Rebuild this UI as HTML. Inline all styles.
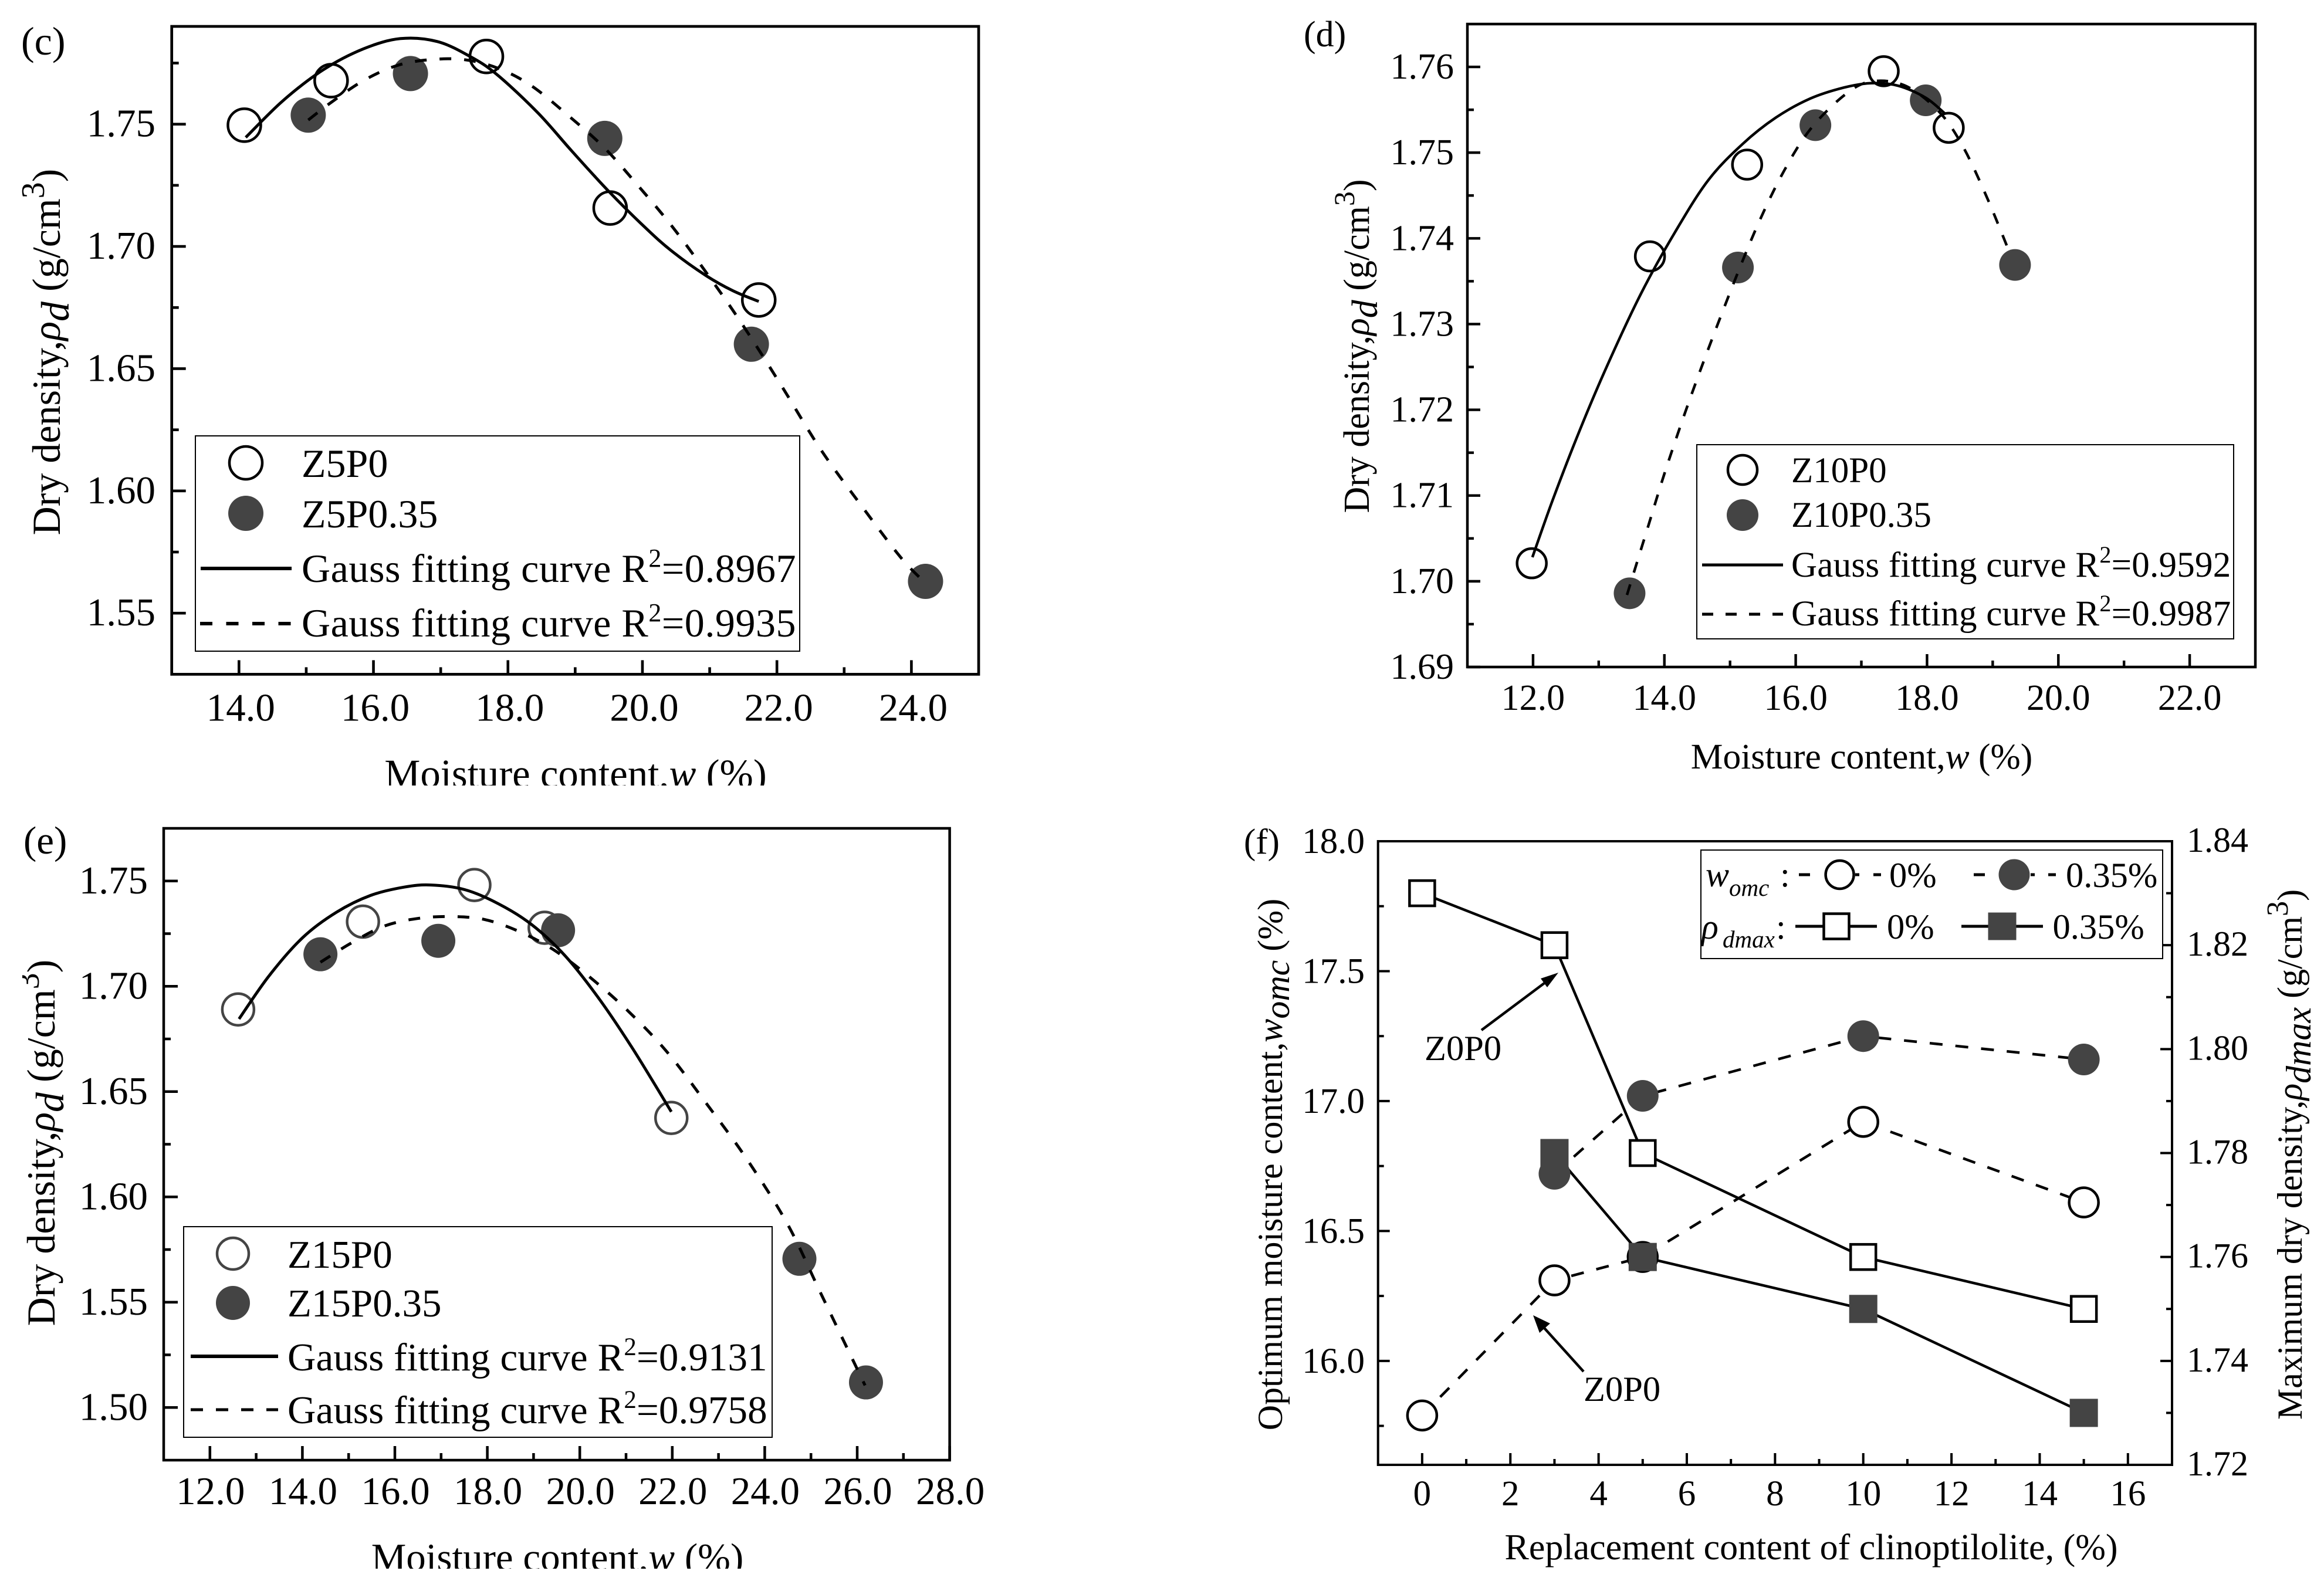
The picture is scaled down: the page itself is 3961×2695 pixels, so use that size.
<!DOCTYPE html>
<html lang="en">
<head>
<meta charset="utf-8">
<title>Compaction curves</title>
<style>
html,body{margin:0;padding:0;background:#fff;}
svg{display:block;}
text{fill:#000;}
</style>
</head>
<body>
<svg id="figure" xmlns="http://www.w3.org/2000/svg" width="3961" height="2695" viewBox="0 0 3961 2695" font-family="'Liberation Serif', serif">
<rect x="0" y="0" width="3961" height="2695" fill="#fff"/>

<!-- Panel c -->
<g id="panel-c"></g>
<text x="36" y="93" font-size="68">(c)</text>
<text transform="translate(102,600) rotate(-90)" text-anchor="middle" font-size="68">Dry density,<tspan font-style="italic">ρ</tspan><tspan font-style="italic" dy="15">d</tspan><tspan dy="-15"> (g/cm</tspan><tspan font-size="56" dy="-27">3</tspan><tspan dy="27">)</tspan></text>
<text x="981" y="1342" text-anchor="middle" font-size="68.8">Moisture content,<tspan font-style="italic">w</tspan> (%)</text>
<rect x="600" y="1339" width="800" height="50" fill="#fff"/>
<g>
<rect x="333" y="743" width="1030" height="367" fill="none" stroke="#000" stroke-width="2"/>
<circle cx="419" cy="789" r="28" fill="#fff" stroke="#000" stroke-width="4.5"/>
<circle cx="419" cy="875" r="30" fill="#444"/>
<line x1="342" y1="969" x2="497" y2="969" stroke="#000" stroke-width="6"/>
<line x1="341" y1="1063" x2="497" y2="1063" stroke="#000" stroke-width="6" stroke-dasharray="21 23.5"/>
<text x="514" y="813" font-size="68">Z5P0</text>
<text x="514" y="899" font-size="68">Z5P0.35</text>
<text x="514" y="992" font-size="68" letter-spacing="0.55">Gauss fitting curve R<tspan font-size="44" dy="-26">2</tspan><tspan dy="26">=0.8967</tspan></text>
<text x="514" y="1085" font-size="68" letter-spacing="0.55">Gauss fitting curve R<tspan font-size="44" dy="-26">2</tspan><tspan dy="26">=0.9935</tspan></text>
</g>

<!-- Panel d -->
<g id="panel-d"></g>
<text x="2222" y="79" font-size="62">(d)</text>
<text transform="translate(2333,590) rotate(-90)" text-anchor="middle" font-size="62">Dry density,<tspan font-style="italic">ρ</tspan><tspan font-style="italic" dy="14">d</tspan><tspan dy="-14"> (g/cm</tspan><tspan font-size="50" dy="-25">3</tspan><tspan dy="25">)</tspan></text>
<text x="3173" y="1310" text-anchor="middle" font-size="61.5">Moisture content,<tspan font-style="italic">w</tspan> (%)</text>
<g>
<rect x="2892" y="758" width="915" height="331" fill="none" stroke="#000" stroke-width="2"/>
<circle cx="2970" cy="801" r="25" fill="#fff" stroke="#000" stroke-width="4.5"/>
<circle cx="2970" cy="878" r="27" fill="#444"/>
<line x1="2901" y1="963" x2="3039" y2="963" stroke="#000" stroke-width="5"/>
<line x1="2901" y1="1047" x2="3039" y2="1047" stroke="#000" stroke-width="5" stroke-dasharray="19 21"/>
<text x="3053" y="822" font-size="61">Z10P0</text>
<text x="3053" y="898" font-size="61">Z10P0.35</text>
<text x="3053" y="983" font-size="61" letter-spacing="0.25">Gauss fitting curve R<tspan font-size="40" dy="-24">2</tspan><tspan dy="24">=0.9592</tspan></text>
<text x="3053" y="1066" font-size="61" letter-spacing="0.25">Gauss fitting curve R<tspan font-size="40" dy="-24">2</tspan><tspan dy="24">=0.9987</tspan></text>
</g>

<!-- Panel e -->
<g id="panel-e"></g>
<text x="40" y="1455" font-size="67">(e)</text>
<text transform="translate(93,1948) rotate(-90)" text-anchor="middle" font-size="68">Dry density,<tspan font-style="italic">ρ</tspan><tspan font-style="italic" dy="15">d</tspan><tspan dy="-15"> (g/cm</tspan><tspan font-size="56" dy="-27">3</tspan><tspan dy="27">)</tspan></text>
<rect x="0" y="1640" width="38" height="70" fill="#fff"/>
<text x="950" y="2677" text-anchor="middle" font-size="67">Moisture content,<tspan font-style="italic">w</tspan> (%)</text>
<rect x="600" y="2674" width="800" height="21" fill="#fff"/>
<g>
<rect x="313" y="2091" width="1003" height="359" fill="none" stroke="#000" stroke-width="2"/>
<circle cx="397" cy="2137" r="27" fill="#fff" stroke="#444" stroke-width="4.5"/>
<circle cx="397" cy="2221" r="29" fill="#444"/>
<line x1="325" y1="2312" x2="474" y2="2312" stroke="#000" stroke-width="6"/>
<line x1="325" y1="2403" x2="474" y2="2403" stroke="#000" stroke-width="5" stroke-dasharray="21 22"/>
<text x="490" y="2161" font-size="67">Z15P0</text>
<text x="490" y="2244" font-size="67">Z15P0.35</text>
<text x="490" y="2336" font-size="67" letter-spacing="0.1">Gauss fitting curve R<tspan font-size="43" dy="-26">2</tspan><tspan dy="26">=0.9131</tspan></text>
<text x="490" y="2426" font-size="67" letter-spacing="0.1">Gauss fitting curve R<tspan font-size="43" dy="-26">2</tspan><tspan dy="26">=0.9758</tspan></text>
</g>

<!-- Panel f -->
<g id="panel-f"></g>
<text x="2120" y="1455" font-size="61">(f)</text>
<text transform="translate(2185,1985) rotate(-90)" text-anchor="middle" font-size="60">Optimum moisture content,<tspan font-style="italic">w</tspan><tspan font-style="italic" dy="12">omc</tspan><tspan dy="-12"> (%)</tspan></text>
<text transform="translate(3923,1968) rotate(-90)" text-anchor="middle" font-size="60">Maximum dry density,<tspan font-style="italic">ρ</tspan><tspan font-style="italic" dy="15">dmax</tspan><tspan dy="-15"> (g/cm</tspan><tspan font-size="52" dy="-24">3</tspan><tspan dy="24">)</tspan></text>
<text x="3087" y="2658" text-anchor="middle" font-size="62">Replacement content of clinoptilolite, (%)</text>
<g>
<line x1="2525" y1="1756" x2="2640" y2="1670" stroke="#000" stroke-width="4.5"/>
<polygon points="2656,1658 2626,1668 2637,1683" fill="#000"/>
<text x="2428" y="1807" font-size="60.5">Z0P0</text>
</g>
<g>
<line x1="2699" y1="2338" x2="2625" y2="2256" stroke="#000" stroke-width="4.5"/>
<polygon points="2613,2242 2642,2256 2624,2272" fill="#000"/>
<text x="2699" y="2388" font-size="60.5">Z0P0</text>
</g>
<g>
<rect x="2899" y="1449" width="787" height="185" fill="#fff" stroke="#000" stroke-width="2"/>
<text x="2907" y="1511" font-size="60" font-style="italic">w</text>
<text x="2947" y="1527" font-size="41" font-style="italic">omc</text>
<text x="3034" y="1511" font-size="60">:</text>
<line x1="3066" y1="1491" x2="3085" y2="1491" stroke="#000" stroke-width="5"/>
<line x1="3162" y1="1491" x2="3169" y2="1491" stroke="#000" stroke-width="5"/>
<line x1="3193" y1="1491" x2="3206" y2="1491" stroke="#000" stroke-width="5"/>
<circle cx="3135.6" cy="1491" r="24" fill="#fff" stroke="#000" stroke-width="4.5"/>
<text x="3220" y="1512" font-size="60.5">0%</text>
<line x1="3364" y1="1491" x2="3383" y2="1491" stroke="#000" stroke-width="5"/>
<line x1="3461" y1="1491" x2="3468" y2="1491" stroke="#000" stroke-width="5"/>
<line x1="3491" y1="1491" x2="3504" y2="1491" stroke="#000" stroke-width="5"/>
<circle cx="3433" cy="1491" r="26.5" fill="#444"/>
<text x="3521" y="1512" font-size="60.5">0.35%</text>
<text x="2900" y="1600" font-size="60" font-style="italic">ρ</text>
<text x="2936" y="1615" font-size="41" font-style="italic">dmax</text>
<text x="3027" y="1600" font-size="60">:</text>
<line x1="3060" y1="1579" x2="3199" y2="1579" stroke="#000" stroke-width="5"/>
<rect x="3108.5" y="1557.5" width="43" height="43" fill="#fff" stroke="#000" stroke-width="4.5"/>
<text x="3216" y="1600" font-size="60.5">0%</text>
<line x1="3343" y1="1579" x2="3482" y2="1579" stroke="#000" stroke-width="5"/>
<rect x="3388.5" y="1555.5" width="48" height="47" fill="#444"/>
<text x="3498.5" y="1600" font-size="60.5">0.35%</text>
</g>
</svg>

<script>
// ---------- Panel c data ----------
const cXTicks = [14, 16, 18, 20, 22, 24];
const cXMinor = [15, 17, 19, 21, 23];
const cXLabels = ['14.0', '16.0', '18.0', '20.0', '22.0', '24.0'];
const cYTicks = [1.55, 1.60, 1.65, 1.70, 1.75];
const cYMinor = [1.575, 1.625, 1.675, 1.725, 1.775];
const cYLabels = ['1.55', '1.60', '1.65', '1.70', '1.75'];
const cOpenX = [14.08, 15.37, 17.68, 19.52, 21.73];
const cOpenY = [1.7496, 1.7678, 1.7777, 1.7157, 1.6781];
const cFillX = [15.03, 16.55, 19.44, 21.62, 24.21];
const cFillY = [1.7537, 1.7707, 1.7442, 1.6600, 1.5630];
const cSolidX = [14.10, 14.65, 15.25, 15.85, 16.40, 16.95, 17.45, 17.85, 18.45, 18.95, 19.50, 20.05, 20.45, 20.95, 21.35, 21.73];
const cSolidY = [1.7446, 1.7595, 1.7722, 1.7808, 1.7850, 1.7838, 1.7775, 1.7700, 1.7545, 1.7390, 1.7225, 1.7075, 1.6978, 1.6880, 1.6818, 1.6775];
const cDashX = [15.03, 15.35, 15.85, 16.35, 16.85, 17.35, 17.85, 18.35, 18.95, 19.45, 19.95, 20.45, 20.95, 21.45, 22.05, 22.65, 23.25, 23.85, 24.23];
const cDashY = [1.7517, 1.7585, 1.7678, 1.7740, 1.7764, 1.7764, 1.7729, 1.7657, 1.7523, 1.7399, 1.7244, 1.7079, 1.6893, 1.6696, 1.6438, 1.6170, 1.5942, 1.5725, 1.5618];

// ---------- Panel d data ----------
const dXTicks = [12, 14, 16, 18, 20, 22];
const dXMinor = [13, 15, 17, 19, 21];
const dXLabels = ['12.0', '14.0', '16.0', '18.0', '20.0', '22.0'];
const dYTicks = [1.69, 1.70, 1.71, 1.72, 1.73, 1.74, 1.75, 1.76];
const dYMinor = [1.695, 1.705, 1.715, 1.725, 1.735, 1.745, 1.755];
const dYLabels = ['1.69', '1.70', '1.71', '1.72', '1.73', '1.74', '1.75', '1.76'];
const dOpenX = [11.98, 13.78, 15.26, 17.34, 18.33];
const dOpenY = [1.7021, 1.7379, 1.7486, 1.7595, 1.7529];
const dFillX = [13.47, 15.12, 16.30, 17.98, 19.34];
const dFillY = [1.6986, 1.7366, 1.7532, 1.7561, 1.7369];
const dSolidX = [11.99, 12.30, 12.71, 13.12, 13.64, 14.16, 14.67, 15.19, 15.70, 16.22, 16.74, 17.15, 17.56, 17.98, 18.28];
const dSolidY = [1.7028, 1.7095, 1.7176, 1.7250, 1.7335, 1.7407, 1.7468, 1.7510, 1.7541, 1.7563, 1.7576, 1.7581, 1.7578, 1.7564, 1.7545];
const dDashX = [13.43, 13.74, 14.05, 14.47, 14.98, 15.40, 15.81, 16.22, 16.74, 17.15, 17.67, 18.18, 18.54, 18.90, 19.27];
const dDashY = [1.6984, 1.7061, 1.7137, 1.7230, 1.7333, 1.7412, 1.7477, 1.7527, 1.7567, 1.7583, 1.7578, 1.7548, 1.7508, 1.7450, 1.7381];

// ---------- Panel e data ----------
const eXTicks = [12, 14, 16, 18, 20, 22, 24, 26, 28];
const eXMinor = [13, 15, 17, 19, 21, 23, 25, 27];
const eXLabels = ['12.0', '14.0', '16.0', '18.0', '20.0', '22.0', '24.0', '26.0', '28.0'];
const eYTicks = [1.50, 1.55, 1.60, 1.65, 1.70, 1.75];
const eYMinor = [1.525, 1.575, 1.625, 1.675, 1.725];
const eYLabels = ['1.50', '1.55', '1.60', '1.65', '1.70', '1.75'];
const eOpenX = [12.61, 15.31, 17.72, 19.24, 21.98];
const eOpenY = [1.6890, 1.7307, 1.7481, 1.7278, 1.6375];
const eFillX = [14.39, 16.94, 19.53, 24.75, 26.19];
const eFillY = [1.7152, 1.7216, 1.7266, 1.5706, 1.5119];
const eSolidX = [12.63, 13.28, 14.01, 14.74, 15.47, 16.20, 16.78, 17.51, 18.23, 18.96, 19.69, 20.42, 21.15, 21.98];
const eSolidY = [1.6845, 1.7050, 1.7232, 1.7352, 1.7431, 1.7471, 1.7481, 1.7459, 1.7393, 1.7293, 1.7143, 1.6940, 1.6702, 1.6404];
const eDashX = [14.39, 15.03, 15.76, 16.49, 17.21, 17.94, 18.67, 19.40, 20.13, 21.00, 21.88, 22.75, 23.62, 24.50, 25.23, 26.17];
const eDashY = [1.7114, 1.7202, 1.7285, 1.7322, 1.7331, 1.7317, 1.7262, 1.7178, 1.7059, 1.6892, 1.6690, 1.6440, 1.6177, 1.5868, 1.5534, 1.5105];

// ---------- Panel f data ----------
const fXTicks = [0, 2, 4, 6, 8, 10, 12, 14, 16];
const fXMinor = [1, 3, 5, 7, 9, 11, 13, 15];
const fXLabels = ['0', '2', '4', '6', '8', '10', '12', '14', '16'];
const fLeftTicks = [16.0, 16.5, 17.0, 17.5, 18.0];
const fLeftMinor = [15.75, 16.25, 16.75, 17.25, 17.75];
const fLeftLabels = ['16.0', '16.5', '17.0', '17.5', '18.0'];
const fRightTicks = [1.72, 1.74, 1.76, 1.78, 1.80, 1.82, 1.84];
const fRightMinor = [1.73, 1.75, 1.77, 1.79, 1.81, 1.83];
const fRightLabels = ['1.72', '1.74', '1.76', '1.78', '1.80', '1.82', '1.84'];
const fContentAll = [0, 3, 5, 10, 15];
const fContentFibre = [3, 5, 10, 15];
const fOmc0 = [15.79, 16.31, 16.40, 16.92, 16.61];
const fOmc35 = [16.72, 17.02, 17.25, 17.16];
const fRho0 = [1.83, 1.82, 1.78, 1.76, 1.75];
const fRho35 = [1.78, 1.76, 1.75, 1.73];

const NS = 'http://www.w3.org/2000/svg';
function make(parent, tag, attrs, text) {
  const el = document.createElementNS(NS, tag);
  for (const k in attrs) el.setAttribute(k, attrs[k]);
  if (text !== undefined) el.textContent = text;
  parent.appendChild(el);
  return el;
}
function linear(d0, d1, r0, r1) {
  return function (v) { return r0 + (v - d0) * (r1 - r0) / (d1 - d0); };
}
// Smooth curve through data points (Catmull-Rom to cubic Bezier).
function smoothPath(xs, ys, sx, sy) {
  const p = xs.map(function (x, i) { return [sx(x), sy(ys[i])]; });
  let d = 'M' + p[0][0].toFixed(1) + ' ' + p[0][1].toFixed(1);
  for (let i = 0; i < p.length - 1; i++) {
    const a = p[Math.max(i - 1, 0)], b = p[i], c = p[i + 1], e = p[Math.min(i + 2, p.length - 1)];
    d += 'C' + (b[0] + (c[0] - a[0]) / 6).toFixed(1) + ' ' + (b[1] + (c[1] - a[1]) / 6).toFixed(1) + ' ' +
      (c[0] - (e[0] - b[0]) / 6).toFixed(1) + ' ' + (c[1] - (e[1] - b[1]) / 6).toFixed(1) + ' ' +
      c[0].toFixed(1) + ' ' + c[1].toFixed(1);
  }
  return d;
}
function straightPath(xs, ys, sx, sy) {
  return xs.map(function (x, i) { return (i ? 'L' : 'M') + sx(x).toFixed(1) + ' ' + sy(ys[i]).toFixed(1); }).join('');
}

function drawFrame(g, box, sw) {
  const frame = make(g, 'rect', { x: box.left, y: box.top, width: box.right - box.left, height: box.bottom - box.top, fill: 'none', stroke: '#000', 'stroke-width': sw });
  
  
}
function drawXAxis(g, box, sx, ticks, minor, labels, o) {
  ticks.forEach(function (v, i) {
    const t = make(g, 'line', { x1: sx(v), x2: sx(v), y1: box.bottom, y2: box.bottom - o.major, stroke: '#000', 'stroke-width': o.sw });
    
    
    const l = make(g, 'text', { x: sx(v) + o.xShift, y: box.bottom + o.xPad, 'text-anchor': 'middle', 'font-size': o.font }, labels[i]);
    
    
  });
  minor.forEach(function (v) {
    const t = make(g, 'line', { x1: sx(v), x2: sx(v), y1: box.bottom, y2: box.bottom - o.minor, stroke: '#000', 'stroke-width': o.sw });
    
    
  });
}
function drawYAxis(g, box, sy, ticks, minor, labels, o) {
  ticks.forEach(function (v, i) {
    const t = make(g, 'line', { x1: box.left, x2: box.left + o.major, y1: sy(v), y2: sy(v), stroke: '#000', 'stroke-width': o.sw });
    
    
    const l = make(g, 'text', { x: o.yRight, y: sy(v) + o.yBase, 'text-anchor': 'end', 'font-size': o.font }, labels[i]);
    
    
  });
  minor.forEach(function (v) {
    const t = make(g, 'line', { x1: box.left, x2: box.left + o.minor, y1: sy(v), y2: sy(v), stroke: '#000', 'stroke-width': o.sw });
    
    
  });
}
function drawOpen(g, xs, ys, sx, sy, r, color) {
  xs.forEach(function (x, i) {
    const c = make(g, 'circle', { cx: sx(x), cy: sy(ys[i]), r: r, fill: '#fff', stroke: color, 'stroke-width': 4.5 });
    
    
  });
}
function drawFilled(g, xs, ys, sx, sy, r) {
  xs.forEach(function (x, i) {
    const c = make(g, 'circle', { cx: sx(x), cy: sy(ys[i]), r: r, fill: '#444' });
    
    
  });
}
function drawCurve(g, xs, ys, sx, sy, sw, dash) {
  const attrs = { d: smoothPath(xs, ys, sx, sy), fill: 'none', stroke: '#000', 'stroke-width': sw };
  if (dash) attrs['stroke-dasharray'] = dash;
  const c = make(g, 'path', attrs);
  
  
}

// ---------- Panel c ----------
(function () {
  const g = document.getElementById('panel-c');
  const box = { left: 292.7, right: 1668, top: 45, bottom: 1149.4 };
  const sx = linear(13, 25, box.left, box.right);
  const sy = linear(1.525, 1.79, box.bottom, box.top);
  const o = { sw: 4.6, major: 24, minor: 12, font: 67, xPad: 79, xShift: 3, yRight: 265, yBase: 21 };
  drawFilled(g, cFillX, cFillY, sx, sy, 30);
  drawOpen(g, cOpenX, cOpenY, sx, sy, 28, '#000');
  drawCurve(g, cSolidX, cSolidY, sx, sy, 5);
  drawCurve(g, cDashX, cDashY, sx, sy, 5, '20 22');
  drawFrame(g, box, 4.7);
  drawXAxis(g, box, sx, cXTicks, cXMinor, cXLabels, o);
  drawYAxis(g, box, sy, cYTicks, cYMinor, cYLabels, o);
})();

// ---------- Panel d ----------
(function () {
  const g = document.getElementById('panel-d');
  const box = { left: 2501, right: 3844, top: 41, bottom: 1137 };
  const sx = linear(11, 23, box.left, box.right);
  const sy = linear(1.69, 1.765, box.bottom, box.top);
  const o = { sw: 4.4, major: 22, minor: 11, font: 62, xPad: 73, xShift: 0, yRight: 2478, yBase: 20 };
  drawFilled(g, dFillX, dFillY, sx, sy, 27);
  drawOpen(g, dOpenX, dOpenY, sx, sy, 25, '#000');
  drawCurve(g, dSolidX, dSolidY, sx, sy, 4.5);
  drawCurve(g, dDashX, dDashY, sx, sy, 4.5, '19 21');
  drawFrame(g, box, 4.5);
  drawXAxis(g, box, sx, dXTicks, dXMinor, dXLabels, o);
  drawYAxis(g, box, sy, dYTicks, dYMinor, dYLabels, o);
})();

// ---------- Panel e ----------
(function () {
  const g = document.getElementById('panel-e');
  const box = { left: 279, right: 1618.6, top: 1412, bottom: 2489 };
  const sx = linear(11, 28, box.left, box.right);
  const sy = linear(1.475, 1.775, box.bottom, box.top);
  const o = { sw: 4.5, major: 24, minor: 12, font: 67, xPad: 75, xShift: 1, yRight: 252, yBase: 21 };
  drawOpen(g, eOpenX, eOpenY, sx, sy, 27, '#444');
  drawFilled(g, eFillX, eFillY, sx, sy, 29);
  drawCurve(g, eSolidX, eSolidY, sx, sy, 5);
  drawCurve(g, eDashX, eDashY, sx, sy, 5, '20 22');
  drawFrame(g, box, 4.5);
  drawXAxis(g, box, sx, eXTicks, eXMinor, eXLabels, o);
  drawYAxis(g, box, sy, eYTicks, eYMinor, eYLabels, o);
})();

// ---------- Panel f ----------
(function () {
  const g = document.getElementById('panel-f');
  const box = { left: 2348.7, right: 3702, top: 1434, bottom: 2497 };
  const sx = linear(-1, 17, box.left, box.right);
  const syL = linear(15.6, 18, box.bottom, box.top);
  const syR = linear(1.72, 1.84, box.bottom, box.top);
  const o = { sw: 4, major: 20, minor: 10, font: 61, xPad: 69, xShift: 0, yRight: 2326, yBase: 20 };

  const omc0 = make(g, 'path', { d: straightPath(fContentAll, fOmc0, sx, syL), fill: 'none', stroke: '#000', 'stroke-width': 4.5, 'stroke-dasharray': '22 22' });
  
  
  const omc35 = make(g, 'path', { d: straightPath(fContentFibre, fOmc35, sx, syL), fill: 'none', stroke: '#000', 'stroke-width': 4.5, 'stroke-dasharray': '22 22' });
  
  
  const rho0 = make(g, 'path', { d: straightPath(fContentAll, fRho0, sx, syR), fill: 'none', stroke: '#000', 'stroke-width': 4.5 });
  
  
  const rho35 = make(g, 'path', { d: straightPath(fContentFibre, fRho35, sx, syR), fill: 'none', stroke: '#000', 'stroke-width': 4.5 });
  
  

  fContentAll.forEach(function (x, i) {
    const c = make(g, 'circle', { cx: sx(x), cy: syL(fOmc0[i]), r: 25, fill: '#fff', stroke: '#000', 'stroke-width': 4.5 });
    
    
  });
  fContentFibre.forEach(function (x, i) {
    const c = make(g, 'circle', { cx: sx(x), cy: syL(fOmc35[i]), r: 27, fill: '#444' });
    
    
  });
  fContentAll.forEach(function (x, i) {
    const s = make(g, 'rect', { x: sx(x) - 21.5, y: syR(fRho0[i]) - 21.5, width: 43, height: 43, fill: '#fff', stroke: '#000', 'stroke-width': 4.5 });
    
    
  });
  fContentFibre.forEach(function (x, i) {
    const s = make(g, 'rect', { x: sx(x) - 24, y: syR(fRho35[i]) - 24, width: 48, height: 48, fill: '#444' });
    
    
  });

  drawFrame(g, box, 4);
  drawXAxis(g, box, sx, fXTicks, fXMinor, fXLabels, o);
  drawYAxis(g, box, syL, fLeftTicks, fLeftMinor, fLeftLabels, o);

  fRightTicks.forEach(function (v, i) {
    const t = make(g, 'line', { x1: box.right, x2: box.right - o.major, y1: syR(v), y2: syR(v), stroke: '#000', 'stroke-width': o.sw });
    
    
    const l = make(g, 'text', { x: 3727, y: syR(v) + 18, 'font-size': 60 }, fRightLabels[i]);
    
    
  });
  fRightMinor.forEach(function (v) {
    const t = make(g, 'line', { x1: box.right, x2: box.right - o.minor, y1: syR(v), y2: syR(v), stroke: '#000', 'stroke-width': o.sw });
    
    
  });
})();
</script>
</body>
</html>
